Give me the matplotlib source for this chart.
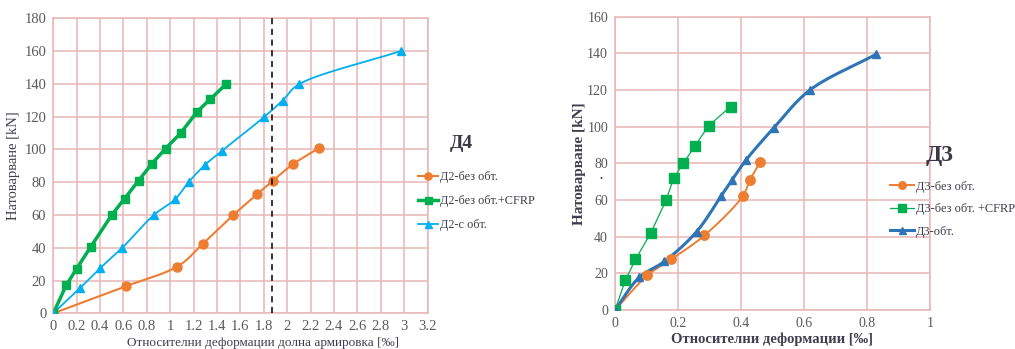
import matplotlib.pyplot as plt
import numpy as np

plt.rcParams['font.family'] = ['Liberation Serif', 'DejaVu Serif']

# ---- data, left chart (Д4) ----
d2_bez_x = [0, 0.62, 1.06, 1.28, 1.54, 1.74, 1.88, 2.05, 2.27]
d2_bez_y = [0, 16.5, 28.5, 42.5, 60, 72.5, 81, 91, 100.7]
d2_cfrp_x = [0, 0.11, 0.20, 0.32, 0.50, 0.61, 0.73, 0.84, 0.96, 1.09, 1.23, 1.34, 1.48]
d2_cfrp_y = [0, 17, 27.3, 40.5, 60, 70, 81, 91, 100.5, 110, 123, 130.5, 140]
d2_s_x = [0, 0.23, 0.40, 0.59, 0.86, 1.04, 1.16, 1.30, 1.44, 1.80, 1.96, 2.10, 2.97]
d2_s_y = [0, 15.5, 27.5, 40, 60, 69.5, 80.3, 90.7, 99, 119.6, 129.8, 139.7, 160]
dashed_x = 1.866

# ---- data, right chart (Д3) ----
d3_bez_x = [0, 0.103, 0.178, 0.284, 0.405, 0.429, 0.460]
d3_bez_y = [0, 18.9, 27.6, 40.7, 62, 71, 80.5]
d3_cfrp_x = [0, 0.033, 0.065, 0.113, 0.162, 0.186, 0.217, 0.254, 0.297, 0.367]
d3_cfrp_y = [0, 16.2, 27.6, 41.8, 59.8, 71.8, 80, 89.6, 100.4, 111]
d3_obt_x = [0, 0.077, 0.157, 0.259, 0.337, 0.371, 0.416, 0.505, 0.619, 0.829]
d3_obt_y = [0, 17.8, 26.5, 42.7, 62.2, 70.7, 81.8, 99.5, 120, 139.5]

orange = '#ED7D31'
green = '#00B050'
lblue = '#00B0F0'
dblue = '#2E75B6'
gridc = '#E8B7B7'
tickc = '#595959'
labc = '#403D4F'


def smooth(x, y, n=16):
    # centripetal catmull-rom through the points (Excel "smoothed line" look)
    p = np.column_stack([x, y]).astype(float)
    sc = np.array([1.0 / max(x), 1.0 / max(y)])  # work in normalised units
    q = p * sc
    q = np.vstack([2 * q[0] - q[1], q, 2 * q[-1] - q[-2]])
    out = []
    for i in range(1, len(q) - 2):
        p0, p1, p2, p3 = q[i - 1], q[i], q[i + 1], q[i + 2]
        t0 = 0.0
        t1 = t0 + np.linalg.norm(p1 - p0) ** 0.5
        t2 = t1 + np.linalg.norm(p2 - p1) ** 0.5
        t3 = t2 + np.linalg.norm(p3 - p2) ** 0.5
        t = np.linspace(t1, t2, n, endpoint=False)[:, None]
        a1 = (t1 - t) / (t1 - t0) * p0 + (t - t0) / (t1 - t0) * p1
        a2 = (t2 - t) / (t2 - t1) * p1 + (t - t1) / (t2 - t1) * p2
        a3 = (t3 - t) / (t3 - t2) * p2 + (t - t2) / (t3 - t2) * p3
        b1 = (t2 - t) / (t2 - t0) * a1 + (t - t0) / (t2 - t0) * a2
        b2 = (t3 - t) / (t3 - t1) * a2 + (t - t1) / (t3 - t1) * a3
        c = (t2 - t) / (t2 - t1) * b1 + (t - t1) / (t2 - t1) * b2
        out.append(c)
    out.append(q[-2][None, :])
    out = np.vstack(out) / sc
    return out[:, 0], out[:, 1]


def series(ax, x, y, color, marker, lw, ms, label, sm=True):
    if sm:
        sx, sy = smooth(x, y)
    else:
        sx, sy = x, y
    ax.plot(sx, sy, color=color, lw=lw, zorder=3)
    ax.plot(x, y, ls='none', marker=marker, color=color, ms=ms, zorder=4)
    # proxy for legend
    return ax.plot([], [], color=color, lw=lw, marker=marker, ms=ms * 0.8, label=label)[0]


def style(ax, xmax, ymax):
    ax.set_xlim(0, xmax)
    ax.set_ylim(0, ymax)
    ax.grid(True, color=gridc, lw=1.1)
    ax.set_axisbelow(True)
    for s in ax.spines.values():
        s.set_color(gridc)
        s.set_linewidth(1.1)
    ax.tick_params(length=0, labelcolor=tickc, labelsize=10.5, pad=5)


fig = plt.figure(figsize=(10.15, 3.49), dpi=100)

# left chart
ax1 = fig.add_axes([0.0525, 0.1023, 0.3687, 0.8453])
h1 = series(ax1, d2_bez_x, d2_bez_y, orange, 'o', 1.5, 6.5, 'Д2-без обт.')
h2 = series(ax1, d2_cfrp_x, d2_cfrp_y, green, 's', 2.5, 6.3, 'Д2-без обт.+CFRP', sm=False)
h3 = series(ax1, d2_s_x, d2_s_y, lblue, '^', 1.3, 6.3, 'Д2-с обт.')
ax1.axvline(dashed_x, color='black', lw=1.1, ls=(0, (4, 3)), zorder=5)
style(ax1, 3.2, 180)
ax1.set_xticks(np.arange(0, 3.21, 0.2))
ax1.set_xticklabels(['0', '0.2', '0.4', '0.6', '0.8', '1', '1.2', '1.4', '1.6', '1.8',
                     '2', '2.2', '2.4', '2.6', '2.8', '3', '3.2'])
ax1.set_yticks(np.arange(0, 181, 20))
ax1.set_xlabel('Относителни деформации долна армировка [‰]', color=labc, fontsize=9.5, labelpad=0)
ax1.xaxis.set_label_coords(0.56, -0.08)
ax1.set_ylabel('Натоварване [kN]', color=labc, fontsize=10.5, labelpad=3)
fig.text(0.443, 0.59, 'Д4', fontsize=14, fontweight='bold', color='#3A3645', ha='left', va='center')
fig.legend(handles=[h1, h2, h3], loc='upper left', bbox_to_anchor=(0.406, 0.528),
           frameon=False, fontsize=8.8, handlelength=1.6, handletextpad=0.15,
           labelspacing=1.0, borderpad=0, labelcolor='#403D4F')

# right chart
ax2 = fig.add_axes([0.6059, 0.1117, 0.3103, 0.8405])
g1 = series(ax2, d3_bez_x, d3_bez_y, orange, 'o', 1.4, 6.8, 'Д3-без обт.')
g2 = series(ax2, d3_cfrp_x, d3_cfrp_y, green, 's', 0.9, 7.2, 'Д3-без обт. +CFRP', sm=False)
g3 = series(ax2, d3_obt_x, d3_obt_y, dblue, '^', 2.2, 6.3, 'Д3-обт.')
style(ax2, 1, 160)
ax2.tick_params(labelsize=10)
ax2.set_xticks(np.arange(0, 1.01, 0.2))
ax2.set_xticklabels(['0', '0.2', '0.4', '0.6', '0.8', '1'])
ax2.set_yticks(np.arange(0, 161, 20))
ax2.set_xlabel('Относителни деформации [‰]', color=labc, fontsize=10.5, fontweight='bold', labelpad=2)
ax2.set_ylabel('Натоварване [kN]', color=labc, fontsize=11, fontweight='bold', labelpad=1)
fig.text(0.592, 0.487, '•', fontsize=6, color=labc, ha='center', va='center')
fig.text(0.926, 0.555, 'Д3', fontsize=17, fontweight='bold', color='#3A3645', ha='center', va='center')
fig.legend(handles=[g1, g2, g3], loc='upper left', bbox_to_anchor=(0.871, 0.5),
           frameon=False, fontsize=8.9, handlelength=1.9, handletextpad=0.15,
           labelspacing=0.85, borderpad=0, labelcolor='#403D4F')

plt.savefig('out.png', dpi=100)
